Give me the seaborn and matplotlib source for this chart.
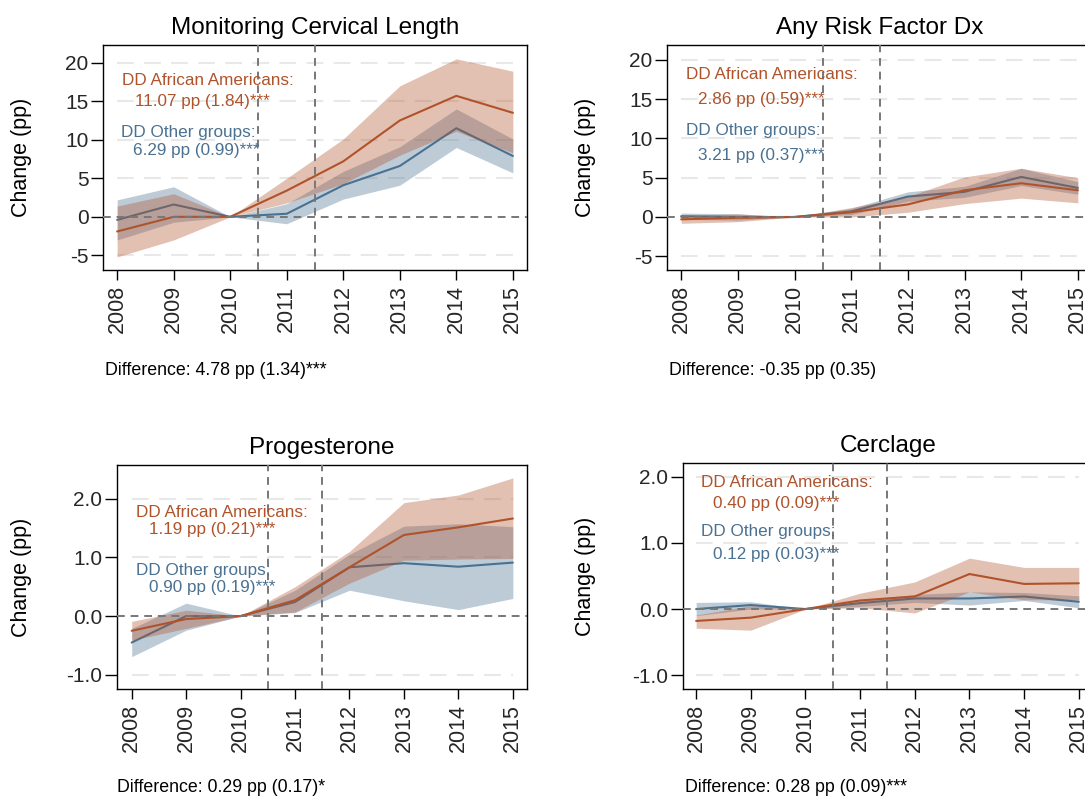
import numpy as np
import pandas as pd
import matplotlib
matplotlib.use("Agg")
import matplotlib.pyplot as plt
import seaborn as sns

# ---- data -------------------------------------------------------------
years = [2008, 2009, 2010, 2011, 2012, 2013, 2014, 2015]

# Monitoring cervical length
mcl_aa_est = [-1.9, 0.0, 0.0, 3.4, 7.2, 12.5, 15.7, 13.5]
mcl_aa_lo = [-5.2, -3.0, 0.0, 1.8, 4.3, 8.0, 11.1, 8.3]
mcl_aa_hi = [1.4, 3.0, 0.0, 5.0, 10.1, 17.0, 20.5, 18.9]
mcl_ot_est = [-0.4, 1.6, 0.0, 0.4, 4.1, 6.6, 11.5, 7.9]
mcl_ot_lo = [-3.0, -0.7, 0.0, -0.9, 2.3, 4.1, 9.0, 5.7]
mcl_ot_hi = [2.2, 3.9, 0.0, 1.7, 5.9, 9.1, 14.0, 10.1]

# Any risk factor diagnosis
rf_aa_est = [-0.3, -0.1, 0.0, 0.6, 1.6, 3.4, 4.3, 3.4]
rf_aa_lo = [-0.8, -0.6, 0.0, 0.0, 0.6, 1.7, 2.4, 1.8]
rf_aa_hi = [0.2, 0.4, 0.0, 1.2, 2.6, 5.1, 6.2, 5.0]
rf_ot_est = [0.1, 0.0, 0.0, 0.7, 2.6, 3.2, 5.1, 3.7]
rf_ot_lo = [-0.3, -0.4, 0.0, 0.3, 2.0, 2.5, 4.0, 2.9]
rf_ot_hi = [0.5, 0.4, 0.0, 1.1, 3.2, 3.9, 6.2, 4.5]

# Progesterone
pg_aa_est = [-0.25, -0.05, 0.0, 0.27, 0.83, 1.38, 1.51, 1.66]
pg_aa_lo = [-0.41, -0.21, 0.0, 0.07, 0.56, 0.95, 0.97, 0.98]
pg_aa_hi = [-0.09, 0.10, 0.0, 0.50, 1.10, 1.93, 2.06, 2.35]
pg_ot_est = [-0.45, 0.0, 0.0, 0.24, 0.83, 0.90, 0.84, 0.91]
pg_ot_lo = [-0.69, -0.24, 0.0, 0.06, 0.44, 0.26, 0.11, 0.30]
pg_ot_hi = [-0.21, 0.22, 0.0, 0.44, 1.05, 1.53, 1.57, 1.52]

# Cerclage
cc_aa_est = [-0.18, -0.13, 0.0, 0.13, 0.19, 0.53, 0.38, 0.39]
cc_aa_lo = [-0.29, -0.32, 0.0, 0.02, -0.06, 0.26, 0.14, 0.14]
cc_aa_hi = [-0.09, 0.05, 0.0, 0.24, 0.41, 0.77, 0.63, 0.63]
cc_ot_est = [0.0, 0.06, 0.0, 0.09, 0.16, 0.16, 0.19, 0.11]
cc_ot_lo = [-0.10, 0.00, 0.0, 0.04, 0.10, 0.06, 0.13, 0.02]
cc_ot_hi = [0.10, 0.11, 0.0, 0.14, 0.22, 0.26, 0.25, 0.20]

titles = ["Monitoring Cervical Length", "Any Risk Factor Dx", "Progesterone", "Cerclage"]
dd_aa = ["11.07 pp (1.84)***", "2.86 pp (0.59)***", "1.19 pp (0.21)***", "0.40 pp (0.09)***"]
dd_ot = ["6.29 pp (0.99)***", "3.21 pp (0.37)***", "0.90 pp (0.19)***", "0.12 pp (0.03)***"]
diffs = ["Difference: 4.78 pp (1.34)***", "Difference: -0.35 pp (0.35)",
         "Difference: 0.29 pp (0.17)*", "Difference: 0.28 pp (0.09)***"]
yticks_big = [-5, 0, 5, 10, 15, 20]
yticks_small = [-1.0, 0.0, 1.0, 2.0]
policy_years = [2010.5, 2011.5]

# ---- style ------------------------------------------------------------
sns.set_theme(style="white")
plt.rcParams["font.family"] = ["Liberation Sans", "DejaVu Sans"]
plt.rcParams["axes.unicode_minus"] = False

ORANGE = "#b0532b"
BLUE = "#4a7191"
W, H = 1085, 797

fig = plt.figure(figsize=(W / 100, H / 100), dpi=100)


def rect(left, top, right, bottom):
    return [left / W, 1 - bottom / H, (right - left) / W, (bottom - top) / H]


panels = [
    dict(rect=rect(103, 45, 527, 270), xlim=(2007.75, 2015.25), ylim=(-6.9, 22.3),
         yt=yticks_big, fmt="{:.0f}",
         aa=(mcl_aa_est, mcl_aa_lo, mcl_aa_hi), ot=(mcl_ot_est, mcl_ot_lo, mcl_ot_hi),
         txt=[(0.045, 0.844), (0.075, 0.747), (0.042, 0.613), (0.071, 0.533)],
         ylab=-0.167, diff=(105, 370)),
    dict(rect=rect(667, 45, 1092, 270), xlim=(2007.75, 2015.25), ylim=(-6.75, 21.9),
         yt=yticks_big, fmt="{:.0f}",
         aa=(rf_aa_est, rf_aa_lo, rf_aa_hi), ot=(rf_ot_est, rf_ot_lo, rf_ot_hi),
         txt=[(0.045, 0.867), (0.073, 0.756), (0.045, 0.618), (0.073, 0.511)],
         ylab=-0.167, diff=(669, 370)),
    dict(rect=rect(117, 465, 527, 689), xlim=(2007.73, 2015.26), ylim=(-1.24, 2.57),
         yt=yticks_small, fmt="{:.1f}",
         aa=(pg_aa_est, pg_aa_lo, pg_aa_hi), ot=(pg_ot_est, pg_ot_lo, pg_ot_hi),
         txt=[(0.046, 0.790), (0.078, 0.710), (0.046, 0.531), (0.078, 0.455)],
         ylab=-0.207, diff=(117, 787)),
    dict(rect=rect(683, 463, 1093, 689), xlim=(2007.76, 2015.26), ylim=(-1.21, 2.21),
         yt=yticks_small, fmt="{:.1f}",
         aa=(cc_aa_est, cc_aa_lo, cc_aa_hi), ot=(cc_ot_est, cc_ot_lo, cc_ot_hi),
         txt=[(0.044, 0.912), (0.073, 0.819), (0.044, 0.695), (0.073, 0.593)],
         ylab=-0.212, diff=(685, 787)),
]

for i, p in enumerate(panels):
    ax = fig.add_axes(p["rect"])
    ax.set_facecolor("white")

    # light dashed grid across the observed years
    grid_vals = [v for v in p["yt"] if v != 0]
    ax.hlines(grid_vals, years[0], years[-1], colors="#e8e8e8", lw=1.5,
              linestyles=(0, (8, 5)), zorder=0.5)

    ot_est, ot_lo, ot_hi = p["ot"]
    aa_est, aa_lo, aa_hi = p["aa"]
    df_ot = pd.DataFrame({"year": years, "change": ot_est})
    df_aa = pd.DataFrame({"year": years, "change": aa_est})

    ax.fill_between(years, ot_lo, ot_hi, color=BLUE, alpha=0.36, lw=0, zorder=1)
    sns.lineplot(data=df_ot, x="year", y="change", ax=ax, color=BLUE, lw=1.5,
                 zorder=2, legend=False)
    ax.fill_between(years, aa_lo, aa_hi, color=ORANGE, alpha=0.36, lw=0, zorder=3)
    sns.lineplot(data=df_aa, x="year", y="change", ax=ax, color=ORANGE, lw=1.5,
                 zorder=4, legend=False)

    # reference lines
    ax.axhline(0, color="#777777", lw=1.4, ls=(0, (4, 3)), zorder=5)
    for yr in policy_years:
        ax.axvline(yr, color="#777777", lw=1.4, ls=(0, (4, 3)), zorder=5)

    ax.set_xlim(*p["xlim"])
    ax.set_ylim(*p["ylim"])
    ax.set_xticks(years)
    ax.set_xticklabels([str(y) for y in years], rotation=90, fontsize=15.5)
    ax.set_yticks(p["yt"])
    ax.set_yticklabels([p["fmt"].format(v) for v in p["yt"]], fontsize=15)
    ax.tick_params(axis="y", direction="out", length=9, width=1, color="black",
                   left=True, pad=1.5)
    ax.tick_params(axis="x", direction="out", length=7, width=1, color="black",
                   bottom=True, pad=4)
    for s in ax.spines.values():
        s.set_color("black")
        s.set_linewidth(1.0)

    ax.set_xlabel("")
    ax.set_ylabel("Change (pp)", fontsize=15.5, color="black")
    ax.yaxis.set_label_coords(p["ylab"], 0.5)
    ax.set_title(titles[i], fontsize=17.5, color="black", pad=8)

    (x1, y1), (x2, y2), (x3, y3), (x4, y4) = p["txt"]
    kw = dict(transform=ax.transAxes, ha="left", va="center", fontsize=12.3, zorder=6)
    ax.text(x1, y1, "DD African Americans:", color=ORANGE, **kw)
    ax.text(x2, y2, dd_aa[i], color=ORANGE, **kw)
    ax.text(x3, y3, "DD Other groups:", color=BLUE, **kw)
    ax.text(x4, y4, dd_ot[i], color=BLUE, **kw)

    dx, dy = p["diff"]
    fig.text(dx / W, 1 - dy / H, diffs[i], ha="left", va="center", fontsize=12.8,
             color="black")

fig.savefig("out.png", dpi=100, facecolor="white")
